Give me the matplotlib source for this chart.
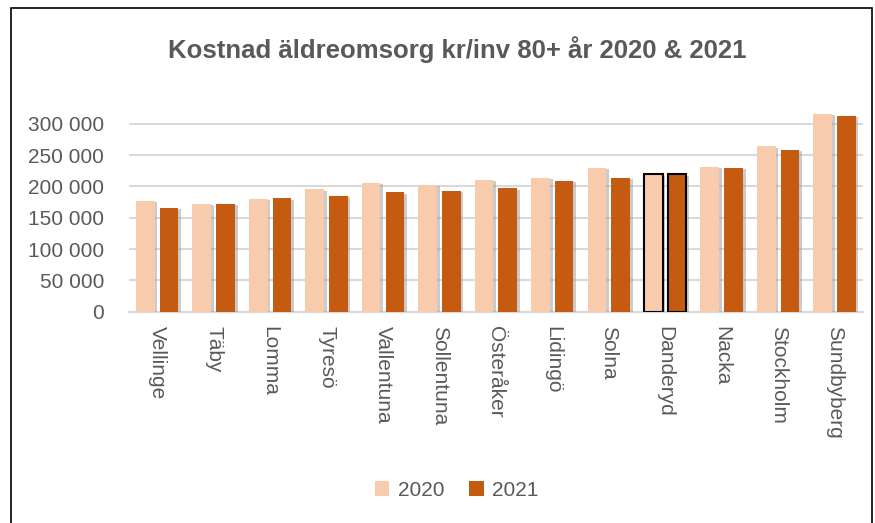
import matplotlib
matplotlib.use("Agg")
import matplotlib.pyplot as plt
import matplotlib.patheffects as pe
from matplotlib.patches import Rectangle, Patch
from matplotlib.ticker import FuncFormatter
import numpy as np

kommuner = ["Vellinge", "Täby", "Lomma", "Tyresö", "Vallentuna", "Sollentuna",
            "Österåker", "Lidingö", "Solna", "Danderyd", "Nacka", "Stockholm", "Sundbyberg"]
kost_2020 = [177000, 172600, 180100, 195600, 205700, 202500,
             210000, 213700, 229700, 219000, 230800, 263700, 316000]
kost_2021 = [165800, 172600, 181200, 185400, 190800, 192900,
             197200, 208900, 213700, 219000, 229200, 258000, 312300]

c2020 = "#F8CBAD"
c2021 = "#C55A11"
grey = "#595959"

plt.rcParams["font.family"] = ["Liberation Sans", "DejaVu Sans"]

fig = plt.figure(figsize=(8.75, 5.23), dpi=100)
ax = fig.add_axes([0.1474, 0.404, 0.8386, 0.405])

x = np.arange(len(kommuner))
w = 0.33
shadow = [pe.SimplePatchShadow(offset=(2, -1), shadow_rgbFace="#999999", alpha=0.5), pe.Normal()]
b1 = ax.bar(x - 0.21, kost_2020, w, color=c2020, zorder=3)
b2 = ax.bar(x + 0.21, kost_2021, w, color=c2021, zorder=3)
for b in list(b1) + list(b2):
    b.set_path_effects(shadow)

# Danderyd highlighted
i = kommuner.index("Danderyd")
for b in (b1[i], b2[i]):
    b.set_edgecolor("black")
    b.set_linewidth(1.5)

ax.set_xlim(-0.5, len(kommuner) - 0.5)
ax.set_ylim(0, 338000)
ax.set_yticks(np.arange(0, 300001, 50000))
ax.yaxis.set_major_formatter(FuncFormatter(lambda v, p: f"{int(v):,}".replace(",", " ")))
ax.grid(axis="y", color="#D9D9D9", linewidth=1.5, zorder=0)
for s in ["top", "right", "left"]:
    ax.spines[s].set_visible(False)
ax.spines["bottom"].set_color("#D9D9D9")
ax.spines["bottom"].set_linewidth(1.5)
ax.tick_params(axis="both", length=0, colors=grey, labelsize=15)
ax.tick_params(axis="y", pad=18)
ax.tick_params(axis="x", pad=10)
ax.set_xticks(x)
ax.set_xticklabels(kommuner, rotation=-90, va="top", ha="center")

fig.text(0.522, 0.906, "Kostnad äldreomsorg kr/inv 80+ år 2020 & 2021",
         ha="center", va="center", fontsize=18.5, fontweight="bold", color=grey)

handles = [Patch(facecolor=c2020), Patch(facecolor=c2021)]
fig.legend(handles=handles, labels=["2020", "2021"], loc="center",
           bbox_to_anchor=(0.522, 0.063), ncol=2, frameon=False, fontsize=15,
           labelcolor=grey, handlelength=0.7, handleheight=0.7, columnspacing=1.2,
           handletextpad=0.4)

fig.patches.append(Rectangle((0.012, -0.01), 0.985, 0.995, transform=fig.transFigure,
                             fill=False, edgecolor="black", linewidth=1.2))

fig.savefig("out.png", dpi=100)
